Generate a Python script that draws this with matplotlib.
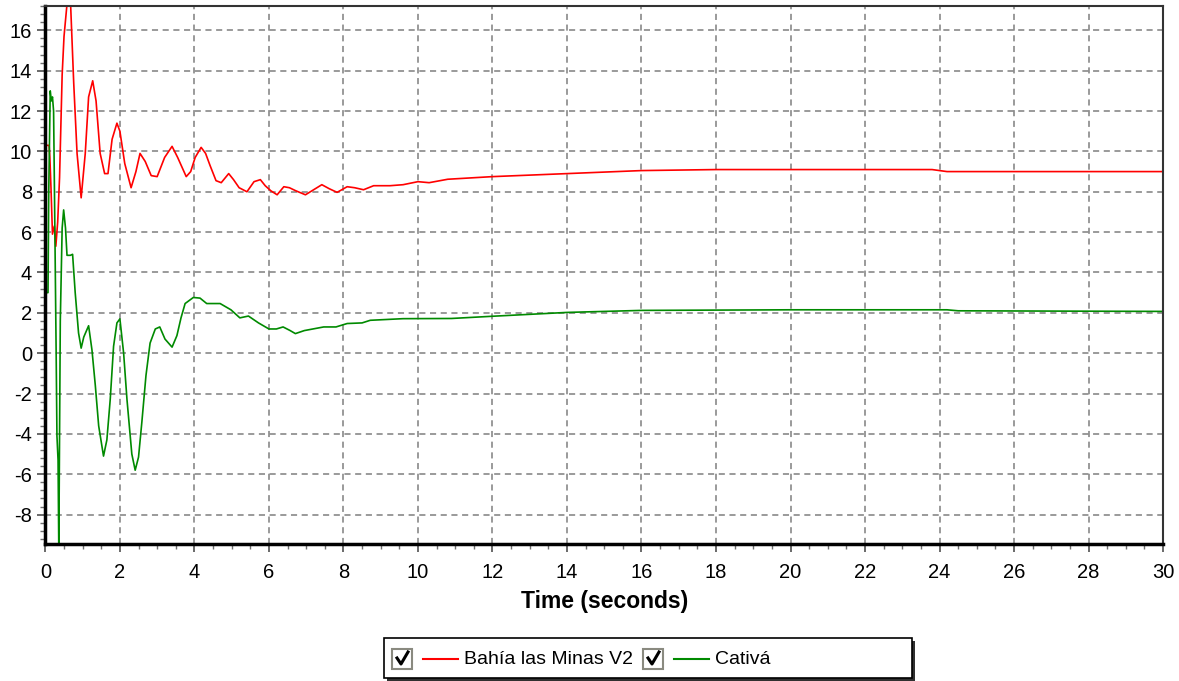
import matplotlib.pyplot as plt
from matplotlib.ticker import MultipleLocator
from matplotlib.patches import Rectangle
from matplotlib.lines import Line2D

plt.rcParams['font.family'] = ['Liberation Sans', 'DejaVu Sans']
plt.rcParams['axes.unicode_minus'] = False

# Data
t_red = [0, 0.04, 0.1, 0.12, 0.15, 0.19, 0.24, 0.28, 0.33, 0.38, 0.45, 0.5, 0.58, 0.67,
         0.76, 0.85, 0.96, 1.07, 1.16, 1.27, 1.36, 1.47, 1.59, 1.68, 1.79, 1.92, 2.0,
         2.13, 2.3, 2.43, 2.54, 2.68, 2.84, 3.0, 3.2, 3.4, 3.55, 3.78, 3.9, 4.02, 4.18,
         4.3, 4.42, 4.58, 4.72, 4.92, 5.05, 5.2, 5.41, 5.6, 5.77, 5.9, 6.05, 6.22, 6.4,
         6.55, 6.72, 6.98, 7.2, 7.42, 7.62, 7.83, 8.1, 8.3, 8.54, 8.81, 9.25, 9.6, 10.0,
         10.3, 10.8, 12.0, 14.0, 16.0, 18.0, 20.0, 22.0, 23.8, 24.2, 26.0, 28.0, 30.0]
v_red = [10.3, 10.3, 10.3, 9.7, 8.2, 5.9, 6.3, 5.3, 6.5, 8.7, 13.8, 15.7, 17.3, 17.6,
         13.4, 9.9, 7.7, 9.9, 12.7, 13.5, 12.5, 9.9, 8.9, 8.9, 10.6, 11.4, 11.0,
         9.4, 8.2, 9.0, 9.9, 9.5, 8.8, 8.75, 9.7, 10.25, 9.7, 8.75, 9.0, 9.7, 10.2,
         9.9, 9.3, 8.55, 8.45, 8.9, 8.6, 8.2, 8.0, 8.5, 8.6, 8.3, 8.05, 7.85, 8.25,
         8.2, 8.05, 7.85, 8.1, 8.35, 8.15, 7.97, 8.25, 8.2, 8.1, 8.3, 8.3, 8.35, 8.5,
         8.45, 8.62, 8.75, 8.9, 9.05, 9.1, 9.1, 9.1, 9.1, 9.0, 9.0, 9.0, 9.0]

t_green = [0, 0.07, 0.09, 0.13, 0.16, 0.19, 0.22, 0.25, 0.29, 0.31, 0.34, 0.36, 0.4,
           0.45, 0.49, 0.54, 0.58, 0.67, 0.73, 0.8, 0.89, 0.96, 1.03, 1.16, 1.25, 1.34,
           1.43, 1.56, 1.65, 1.74, 1.83, 1.92, 2.0, 2.1, 2.19, 2.32, 2.41, 2.5, 2.59,
           2.7, 2.81, 2.95, 3.07, 3.21, 3.4, 3.53, 3.64, 3.75, 3.97, 4.15, 4.33, 4.69,
           4.98, 5.22, 5.45, 5.72, 6.0, 6.2, 6.38, 6.56, 6.71, 6.95, 7.47, 7.8, 8.1,
           8.5, 8.72, 9.6, 10.9, 12.0, 14.0, 16.0, 20.0, 24.2, 24.5, 30.0]
v_green = [3.0, 3.0, 8.0, 13.0, 12.5, 12.7, 12.0, 6.9, -0.2, -4.1, -5.3, -9.8, 1.6,
           6.2, 7.1, 6.2, 4.85, 4.85, 4.9, 3.0, 1.0, 0.25, 0.8, 1.36, 0.16, -1.6,
           -3.6, -5.1, -4.3, -2.3, 0.34, 1.5, 1.7, 0.0, -2.3, -5.0, -5.8, -5.15, -3.4,
           -1.1, 0.5, 1.2, 1.3, 0.7, 0.3, 0.87, 1.75, 2.46, 2.76, 2.73, 2.46, 2.46,
           2.15, 1.75, 1.84, 1.5, 1.2, 1.2, 1.3, 1.13, 0.97, 1.12, 1.3, 1.3, 1.47,
           1.5, 1.63, 1.71, 1.72, 1.83, 2.02, 2.12, 2.15, 2.15, 2.1, 2.07]

names = ['Bahía las Minas V2', 'Cativá']
colors = ['#ff0000', '#008a00']

fig = plt.figure(figsize=(11.79, 6.81), dpi=100)
ax = fig.add_axes([0.0385, 0.2005, 0.948, 0.7905])

l1, = ax.plot(t_red, v_red, color=colors[0], lw=1.2)
l2, = ax.plot(t_green, v_green, color=colors[1], lw=1.2)

ax.set_xlim(0, 30)
ax.set_ylim(-9.48, 17.2)
ax.xaxis.set_major_locator(MultipleLocator(2))
ax.xaxis.set_minor_locator(MultipleLocator(0.5))
ax.yaxis.set_major_locator(MultipleLocator(2))
ax.yaxis.set_minor_locator(MultipleLocator(0.4))
ax.tick_params(which='major', labelsize=14.5, length=6, width=1.2, color='#505050')
ax.tick_params(which='minor', length=3.5, width=1, color='#707070')
ax.tick_params(axis='x', which='major', pad=7)
ax.grid(True, which='major', color='#7f7f7f', linestyle=(0, (4, 3)), linewidth=1.1)

ax.spines['left'].set_linewidth(2.5)
ax.spines['bottom'].set_linewidth(2.5)
ax.spines['top'].set_linewidth(1.5)
ax.spines['top'].set_color('#333333')
ax.spines['right'].set_linewidth(1.5)
ax.spines['right'].set_color('#333333')

ax.set_xlabel('Time (seconds)', fontsize=16.5, fontweight='bold', labelpad=6)

# Legend box with check boxes
W, H = 1179, 681
def fx(px):
    return px / W
def fy(py):
    return 1 - py / H

fig.patches.append(Rectangle((fx(387), fy(681)), fx(528) - fx(0), fy(638) - fy(678),
                             transform=fig.transFigure, facecolor='#303030', edgecolor='none'))
fig.patches.append(Rectangle((fx(384), fy(678)), fx(528) - fx(0), fy(638) - fy(678),
                             transform=fig.transFigure, facecolor='white', edgecolor='black', lw=1.2))

entries = [(392, l1, names[0]), (643, l2, names[1])]
for x0, line, label in entries:
    fig.patches.append(Rectangle((fx(x0), fy(669)), fx(20), fy(649) - fy(669),
                                 transform=fig.transFigure, facecolor='white',
                                 edgecolor='#8a8a80', lw=1.5))
    fig.lines.append(Line2D([fx(x0 + 5), fx(x0 + 9), fx(x0 + 16)], [fy(658), fy(664), fy(652)],
                            transform=fig.transFigure, color='black', lw=2.2))
    fig.lines.append(Line2D([fx(x0 + 31), fx(x0 + 66)], [fy(659), fy(659)],
                            transform=fig.transFigure, color=line.get_color(), lw=1.5))
    fig.text(fx(x0 + 72), fy(659), label, fontsize=14, va='center', ha='left')

fig.savefig('out.png', dpi=100)
